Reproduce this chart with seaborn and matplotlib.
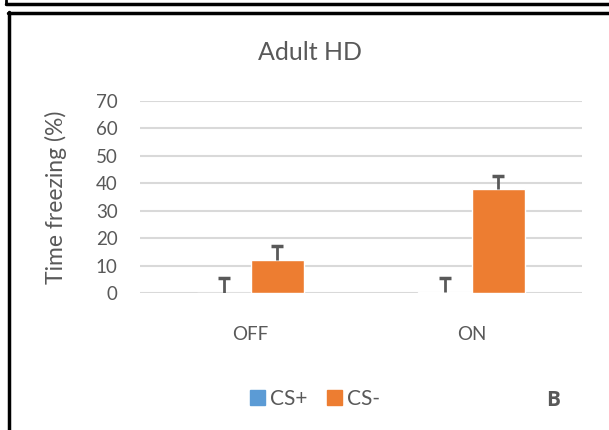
import pandas as pd
import seaborn as sns
import matplotlib.pyplot as plt
from matplotlib.lines import Line2D

# values
phases = ['OFF', 'ON']
groups = ['CS+', 'CS-']
cs_plus = [0.0, 0.4]
cs_minus = [12.2, 37.8]
cs_plus_err = [5.3, 5.1]
cs_minus_err = [5.1, 4.9]
yticks = [0, 10, 20, 30, 40, 50, 60, 70]

df = pd.DataFrame({
    'phase': phases * 2,
    'group': ['CS+'] * 2 + ['CS-'] * 2,
    'value': cs_plus + cs_minus,
    'err': cs_plus_err + cs_minus_err,
})

sns.set_style('white')
plt.rcParams['font.family'] = ['Lato', 'DejaVu Sans']
grey = '#595959'
palette = {'CS+': '#5B9BD5', 'CS-': '#ED7D31'}

fig = plt.figure(figsize=(6.09, 4.30), dpi=100)
ax = fig.add_axes([140 / 609, 137 / 430, 442 / 609, 192 / 430])

sns.barplot(data=df, x='phase', y='value', hue='group', order=phases,
            hue_order=groups, palette=palette, width=0.48, saturation=1,
            errorbar=None, ax=ax, legend=False)

# plus-direction error bars like Excel
for container, g in zip(ax.containers, groups):
    sub = df[df['group'] == g].set_index('phase').loc[phases]
    xs = [p.get_x() + p.get_width() / 2 for p in container.patches]
    eb = ax.errorbar(xs, sub['value'], yerr=[[0] * len(xs), sub['err']],
                     fmt='none', ecolor=grey, elinewidth=2, capsize=4.5,
                     capthick=2.5, zorder=3)
    eb[1][0].set_visible(False)  # drop the lower cap

ax.set_xlim(-0.5, 1.5)
ax.set_ylim(0, 70)
ax.set_yticks(yticks)
ax.yaxis.grid(True, color='#d9d9d9', linewidth=1.5)
ax.set_axisbelow(True)
for s in ax.spines.values():
    s.set_visible(False)
ax.tick_params(axis='both', length=0, labelsize=13.5, labelcolor=grey)
ax.tick_params(axis='y', pad=16)
ax.tick_params(axis='x', pad=24)
ax.set_xlabel('')
ax.set_ylabel('Time freezing (%)', fontsize=16.5, color=grey)
ax.yaxis.set_label_coords((67 - 140) / 442, 0.5)

fig.text(310 / 609, 1 - 52 / 430, 'Adult HD', fontsize=18, color=grey,
         ha='center', va='center')

handles = [plt.Rectangle((0, 0), 1, 1, color=palette[g]) for g in groups]
fig.legend(handles, groups, loc='center', bbox_to_anchor=(315 / 609, 1 - 399 / 430),
           ncol=2, frameon=False, fontsize=15, labelcolor=grey,
           handlelength=0.75, handleheight=0.75, handletextpad=0.25, columnspacing=0.9)

fig.text(553 / 609, 1 - 401 / 430, 'B', fontsize=15, fontweight='bold',
         family='Open Sans', color=grey, ha='center', va='center')

# panel frame lines
fig.add_artist(Line2D([8 / 609, 1], [1 - 12.5 / 430] * 2, color='black', lw=2.5))
fig.add_artist(Line2D([8.5 / 609] * 2, [0, 1 - 12 / 430], color='black', lw=2.5))
fig.add_artist(Line2D([6 / 609, 1], [1 - 4 / 430] * 2, color='black', lw=2.5))
fig.add_artist(Line2D([6 / 609] * 2, [1 - 4 / 430, 1], color='black', lw=2))

fig.savefig('out.png', dpi=100)
